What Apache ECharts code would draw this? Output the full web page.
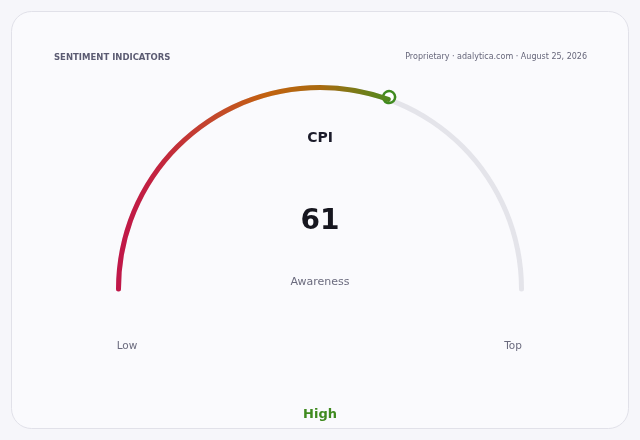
<!DOCTYPE html>
<html>
<head>
<meta charset="utf-8">
<script src="https://cdn.jsdelivr.net/npm/echarts@6/dist/echarts.min.js"></script>
<style>
html,body{margin:0;padding:0;background:#f6f6fa;}
#c{width:640px;height:440px;}
</style>
</head>
<body>
<div id="c"></div>
<script>
const chartTitle = 'SENTIMENT INDICATORS';
const sourceNote = 'Proprietary · adalytica.com · August 25, 2026';
const indicatorName = 'CPI';
const indicatorValues = [61];
const indicatorSubtitle = 'Awareness';
const rangeLabels = ['Low', 'Top'];
const statusLabel = 'High';
const axisMin = 0;
const axisMax = 100;

const FONT = 'DejaVu Sans';
const cx = 320, cy = 289, R = 204;

const chart = echarts.init(document.getElementById('c'));
chart.setOption({
  backgroundColor: '#f6f6fa',
  animation: false,
  graphic: [
    { type: 'rect', z: -10, shape: { x: 11.5, y: 11.5, width: 617, height: 417, r: 20 },
      style: { fill: '#fafafd', stroke: '#e1e1e9', lineWidth: 1 } },
    { type: 'text', left: 54, top: 53, style: { text: chartTitle, font: 'bold 8.5px ' + FONT, fill: '#5b5b72' } },
    { type: 'text', right: 53, top: 53, style: { text: sourceNote, font: '8px ' + FONT, fill: '#66667a', textAlign: 'right' } },
    { type: 'text', x: cx, y: 282, style: { text: indicatorSubtitle, font: '11px ' + FONT, fill: '#6b6b7e', align: 'center', verticalAlign: 'middle' } },
    { type: 'text', x: 127, y: 346, style: { text: rangeLabels[0], font: '10.5px ' + FONT, fill: '#6b6b7e', align: 'center', verticalAlign: 'middle' } },
    { type: 'text', x: 513, y: 346, style: { text: rangeLabels[1], font: '10.5px ' + FONT, fill: '#6b6b7e', align: 'center', verticalAlign: 'middle' } },
    { type: 'text', x: cx, y: 415, style: { text: statusLabel, font: 'bold 13px ' + FONT, fill: '#3f8a1f', align: 'center', verticalAlign: 'middle' } }
  ],
  series: [{
    type: 'gauge',
    center: [cx, cy],
    radius: R,
    startAngle: 180,
    endAngle: 0,
    min: axisMin,
    max: axisMax,
    axisLine: { roundCap: true, lineStyle: { width: 5, color: [[1, '#e4e4ea']] } },
    progress: {
      show: true, width: 5, roundCap: true,
      itemStyle: {
        color: new echarts.graphic.LinearGradient(0, 0, 1, 0, [
          { offset: 0, color: '#c01649' },
          { offset: 0.15, color: '#c3233f' },
          { offset: 0.35, color: '#c4472c' },
          { offset: 0.55, color: '#c2620f' },
          { offset: 0.75, color: '#a86a10' },
          { offset: 1, color: '#4d8a1e' }
        ])
      }
    },
    pointer: {
      show: true, icon: 'circle', length: 12, width: 12,
      offsetCenter: [0, -(R - 6)], keepAspect: true,
      itemStyle: { color: '#ffffff', borderColor: '#3f8a1f', borderWidth: 2.5 }
    },
    anchor: { show: false },
    axisTick: { show: false },
    splitLine: { show: false },
    axisLabel: { show: false },
    title: { show: true, offsetCenter: [0, -151], fontFamily: FONT, fontSize: 14, fontWeight: 'bold', color: '#1b1b2a' },
    detail: { show: true, offsetCenter: [0, -67], fontFamily: FONT, fontSize: 28, fontWeight: 'bold', color: '#16161f', formatter: '{value}' },
    data: indicatorValues.map(v => ({ value: v, name: indicatorName }))
  }]
});
</script>
</body>
</html>
